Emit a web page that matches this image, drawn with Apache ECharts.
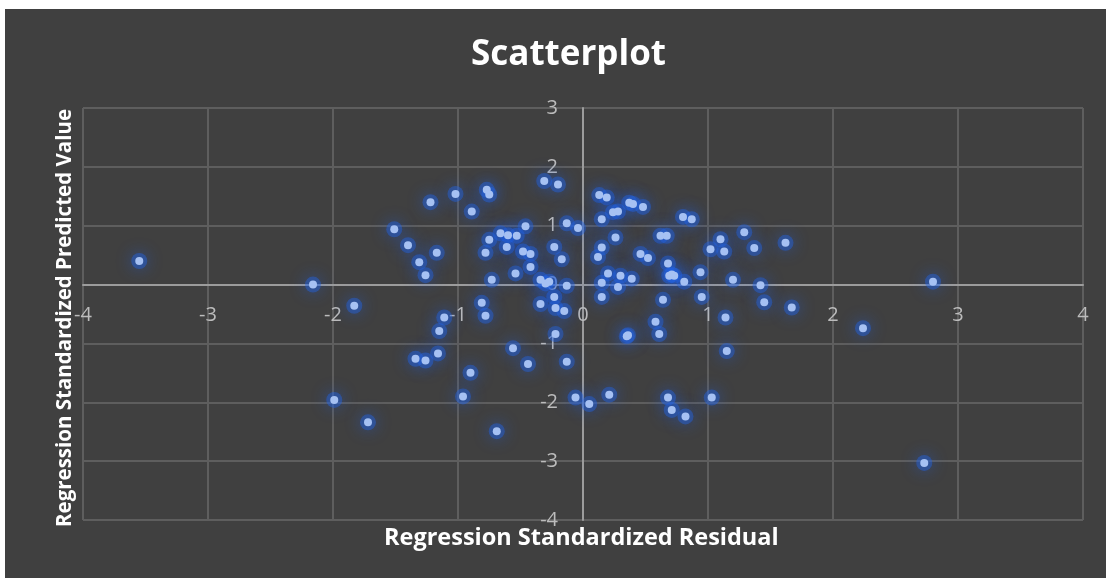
<!DOCTYPE html>
<html>
<head>
<meta charset="utf-8">
<script src="https://cdn.jsdelivr.net/npm/echarts@6/dist/echarts.min.js"></script>
<style>
html,body{margin:0;padding:0;background:#ffffff;width:1116px;height:583px;overflow:hidden;}
#chart{position:absolute;left:5px;top:9px;width:1101px;height:569px;}
</style>
</head>
<body>
<div id="chart"></div>
<script>
const chartTitle = 'Scatterplot';
const xAxisTitle = 'Regression Standardized Residual';
const yAxisTitle = 'Regression Standardized Predicted Value';
const xTicks = [-4, -3, -2, -1, 0, 1, 2, 3, 4];
const yTicks = [-4, -3, -2, -1, 0, 1, 2, 3];

const residual = [
 -3.55,-2.16,-1.83,-1.51,-1.40,-1.31,-1.26,-1.22,-1.02,-0.89,
 -1.17,-1.11,-1.15,-1.16,-1.34,-1.26,-0.90,-0.81,-0.77,-0.75,
 -0.31,-0.20,0.13,0.19,0.24,0.28,0.37,0.40,0.48,0.15,
 0.80,0.87,-0.46,-0.13,-0.04,-0.66,-0.60,-0.53,-0.75,-0.61,
 -0.78,-0.48,-0.42,-0.23,-0.17,-0.42,-0.54,-0.73,-0.34,-0.30,
 -0.13,-0.23,-0.34,-0.22,-0.15,-0.78,0.26,0.15,0.12,0.62,
 0.67,0.46,0.52,0.68,0.69,0.73,0.81,0.94,1.02,1.10,
 1.13,1.20,0.20,0.30,0.39,0.15,0.28,0.15,0.64,0.95,
 1.14,1.29,1.37,1.62,1.42,1.45,1.67,0.58,0.61,1.15,
 0.35,-0.22,-0.56,-0.44,-0.13,-0.96,-0.69,-0.06,0.05,0.21,
 0.68,0.71,0.82,1.03,-1.99,-1.72,2.24,2.73,2.80,-0.27,
 0.36,0.71
];
const predicted = [
 0.40,0.00,-0.36,0.94,0.67,0.38,0.16,1.40,1.54,1.24,
 0.54,-0.56,-0.79,-1.17,-1.26,-1.29,-1.50,-0.31,1.61,1.53,
 1.76,1.70,1.52,1.48,1.23,1.24,1.39,1.37,1.32,1.11,
 1.15,1.11,0.99,1.04,0.96,0.87,0.84,0.83,0.76,0.64,
 0.54,0.56,0.52,0.64,0.43,0.30,0.19,0.08,0.08,0.02,
 -0.02,-0.21,-0.33,-0.40,-0.45,-0.53,0.80,0.63,0.47,0.83,
 0.83,0.52,0.45,0.36,0.15,0.15,0.05,0.21,0.60,0.77,
 0.56,0.08,0.19,0.15,0.10,0.03,-0.04,-0.21,-0.26,-0.21,
 -0.56,0.89,0.62,0.71,-0.01,-0.30,-0.39,-0.63,-0.84,-1.13,
 -0.88,-0.84,-1.08,-1.35,-1.31,-1.90,-2.49,-1.92,-2.03,-1.87,
 -1.92,-2.13,-2.24,-1.92,-1.96,-2.34,-0.74,-3.03,0.05,0.05,
 -0.86,0.17
];

const points = residual.map((x, i) => [x, predicted[i]]);

const chart = echarts.init(document.getElementById('chart'), null, {renderer: 'canvas'});
const gridColor = '#5e5e5e';
const labelColor = '#bcbcbc';
const font = '"Open Sans", "Noto Sans", sans-serif';

const G = {left: 78, top: 99, width: 1000, height: 412};
const xMin = xTicks[0], xMax = xTicks[xTicks.length - 1];
const yMin = yTicks[0], yMax = yTicks[yTicks.length - 1];
// move the axes (with labels) onto the zero lines
const xOffset = -G.height * (0 - yMin) / (yMax - yMin);
const yOffset = -G.width * (0 - xMin) / (xMax - xMin);

chart.setOption({
  backgroundColor: '#404040',
  animation: false,
  title: {
    text: chartTitle,
    left: 461,
    top: 24,
    textStyle: {color: '#ffffff', fontSize: 35, fontWeight: 'bold', fontFamily: font}
  },
  grid: G,
  xAxis: {
    type: 'value', position: 'bottom', offset: xOffset,
    min: xMin, max: xMax, interval: 1,
    axisLine: {onZero: false, lineStyle: {color: '#9c9c9c', width: 2}},
    axisTick: {show: false},
    axisLabel: {color: labelColor, fontSize: 20, fontFamily: font, margin: 21,
      formatter: v => String(v)},
    splitLine: {show: true, lineStyle: {color: gridColor, width: 2}}
  },
  yAxis: {
    type: 'value', position: 'left', offset: yOffset,
    min: yMin, max: yMax, interval: 1,
    axisLine: {onZero: false, lineStyle: {color: '#9c9c9c', width: 2}},
    axisTick: {show: false},
    axisLabel: {color: labelColor, fontSize: 20, fontFamily: font, margin: 25,
      formatter: v => String(v)},
    splitLine: {show: true, lineStyle: {color: gridColor, width: 2}}
  },
  graphic: [
    {type: 'text', left: 379, top: 517,
      style: {text: xAxisTitle, fill: '#ffffff', font: 'bold 23.5px "Open Sans", sans-serif'}},
    {type: 'text', x: 60, y: 309, rotation: Math.PI / 2,
      style: {text: yAxisTitle, fill: '#ffffff', font: 'bold 20.5px "Open Sans", sans-serif',
        textAlign: 'center', textVerticalAlign: 'middle'}}
  ],
  series: [{
    type: 'scatter',
    data: points,
    symbolSize: 16,
    silent: true,
    itemStyle: {
      color: 'rgba(35,100,230,0.55)',
      shadowBlur: 16,
      shadowColor: 'rgba(30,95,240,1)'
    }
  }, {
    type: 'scatter',
    data: points,
    symbolSize: 8,
    itemStyle: {
      color: '#a6c1f3',
      opacity: 1
    }
  }]
});
</script>
</body>
</html>
